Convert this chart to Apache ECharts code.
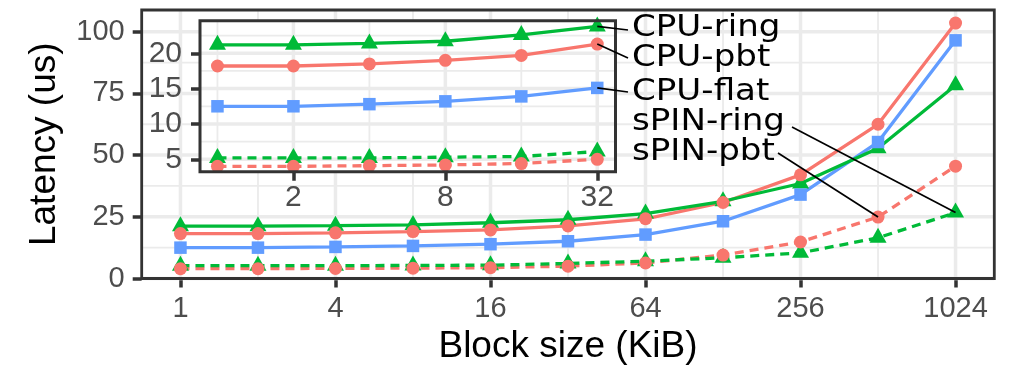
<!DOCTYPE html>
<html>
<head>
<meta charset="utf-8">
<script src="https://cdn.jsdelivr.net/npm/echarts@6/dist/echarts.min.js"></script>
<style>
  html, body { margin: 0; padding: 0; background: #fff; }
  #chart { width: 1012px; height: 372px; }
</style>
</head>
<body>
<div id="chart"></div>
<script>
// Block sizes (KiB) and measured latencies (us)
const blockSizes = [1, 2, 4, 8, 16, 32, 64, 128, 256, 512, 1024];
const cpuRing  = [21.2, 21.2, 21.4, 21.7, 22.6, 23.8, 26.3, 31.3, 38.5, 52.8, 78.3];
const cpuPbt   = [18.2, 18.2, 18.5, 19.0, 19.7, 21.3, 24.2, 30.8, 42.0, 62.5, 103.5];
const cpuFlat  = [12.5, 12.5, 12.8, 13.2, 13.9, 15.1, 17.8, 23.2, 34.0, 55.3, 96.5];
const spinRing = [5.2, 5.2, 5.2, 5.3, 5.4, 6.1, 7.0, 8.4, 10.4, 16.5, 26.7];
const spinPbt  = [4.0, 4.0, 4.1, 4.2, 4.4, 5.0, 6.3, 9.5, 14.8, 24.9, 45.5];

// Tick labels
const mainXTicks  = [1, 4, 16, 64, 256, 1024];
const mainYTicks  = [0, 25, 50, 75, 100];
const insetXTicks = [2, 8, 32];
const insetYTicks = [5, 10, 15, 20];
const insetMaxSize = 32;

// Layout
const MAIN  = { left: 141.7, top: 10, width: 852.6, height: 268.5 };
const INSET = { left: 200, top: 20.7, width: 415.5, height: 151.1 };
const MAIN_X = [-0.5, 10.5], MAIN_Y = [0, 108.8];
const INSET_X = [-0.23, 5.24], INSET_Y = [3.23, 24.61];

const RED = '#F8766D', GREEN = '#00BA38', BLUE = '#619CFF';
const GRID = '#EBEBEB', INK = '#333333', TICK_TEXT = '#4D4D4D';
const AXIS_FONT = 'Liberation Sans, Arial, sans-serif';

const log2 = v => Math.log2(v);

const groups = [
  { name: 'CPU-ring',  values: cpuRing,  color: GREEN, symbol: 'triangle', dashed: false },
  { name: 'CPU-pbt',   values: cpuPbt,   color: RED,   symbol: 'circle',   dashed: false },
  { name: 'CPU-flat',  values: cpuFlat,  color: BLUE,  symbol: 'rect',     dashed: false },
  { name: 'sPIN-ring', values: spinRing, color: GREEN, symbol: 'triangle', dashed: true },
  { name: 'sPIN-pbt',  values: spinPbt,  color: RED,   symbol: 'circle',   dashed: true }
];
const lineOrder  = ['sPIN-pbt', 'sPIN-ring', 'CPU-flat', 'CPU-pbt', 'CPU-ring'];
const pointOrder = ['sPIN-ring', 'sPIN-pbt', 'CPU-ring', 'CPU-flat', 'CPU-pbt'];
const byName = n => groups.find(g => g.name === n);

function markerStyle(g) {
  if (g.symbol === 'triangle') return { symbolSize: [17, 15], symbolOffset: [0, -2.5] };
  if (g.symbol === 'rect') return { symbolSize: 12.5 };
  return { symbolSize: 13 };
}

// Minor grid positions: halfway between breaks, one step beyond each end
function minorBreaks(ticks, range) {
  const step = ticks[1] - ticks[0];
  const ext = [ticks[0] - step, ...ticks, ticks[ticks.length - 1] + step];
  const out = [];
  for (let i = 0; i < ext.length - 1; i++) out.push((ext[i] + ext[i + 1]) / 2);
  return out.filter(v => v > range[0] && v < range[1]);
}

function dataSeries(idx, maxSize, zBase) {
  const out = [];
  const keep = blockSizes.map((b, i) => i).filter(i => blockSizes[i] <= maxSize);
  lineOrder.forEach(n => {
    const g = byName(n);
    out.push({
      type: 'line', name: g.name, xAxisIndex: idx, yAxisIndex: idx, z: zBase,
      data: keep.map(i => [log2(blockSizes[i]), g.values[i]]),
      showSymbol: false, silent: true,
      lineStyle: { color: g.color, width: 3.3, type: g.dashed ? [9, 6] : 'solid' }
    });
  });
  pointOrder.forEach(n => {
    const g = byName(n);
    out.push(Object.assign({
      type: 'scatter', name: g.name, xAxisIndex: idx, yAxisIndex: idx, z: zBase + 1,
      data: keep.map(i => [log2(blockSizes[i]), g.values[i]]),
      symbol: g.symbol, silent: true,
      itemStyle: { color: g.color, opacity: 1 }
    }, markerStyle(g)));
  });
  return out;
}

function tickAxis(opts) {
  return Object.assign({
    type: 'value',
    axisLine: { show: false, onZero: false },
    splitLine: { show: false },
    axisTick: { show: true, customValues: opts.ticks, length: 9, lineStyle: { color: INK, width: 3.5 } },
    axisLabel: {
      customValues: opts.ticks, fontSize: opts.fontSize, color: TICK_TEXT,
      fontFamily: AXIS_FONT, margin: opts.margin, formatter: opts.formatter
    }
  }, opts.extra);
}

const mainXVals = mainXTicks.map(log2);
const insetXVals = insetXTicks.map(log2);
const pow2Label = v => String(Math.round(Math.pow(2, v)));

const option = {
  animation: false,
  backgroundColor: '#ffffff',
  grid: [
    { left: MAIN.left, top: MAIN.top, width: MAIN.width, height: MAIN.height, show: false },
    { left: INSET.left, top: INSET.top, width: INSET.width, height: INSET.height, show: false }
  ],
  xAxis: [
    tickAxis({ ticks: mainXVals, fontSize: 29, margin: 16, formatter: pow2Label,
      extra: { gridIndex: 0, min: MAIN_X[0], max: MAIN_X[1],
        name: 'Block size (KiB)', nameLocation: 'middle', nameGap: 50,
        nameTextStyle: { fontSize: 37, color: '#000', fontFamily: AXIS_FONT } } }),
    tickAxis({ ticks: insetXVals, fontSize: 30, margin: 11, formatter: pow2Label,
      extra: { gridIndex: 1, min: INSET_X[0], max: INSET_X[1], z: 6 } })
  ],
  yAxis: [
    tickAxis({ ticks: mainYTicks, fontSize: 29, margin: 17, formatter: v => String(v),
      extra: { gridIndex: 0, min: MAIN_Y[0], max: MAIN_Y[1],
        name: 'Latency (us)', nameLocation: 'middle', nameGap: 78, nameRotate: 90,
        nameTextStyle: { fontSize: 37, color: '#000', fontFamily: AXIS_FONT } } }),
    tickAxis({ ticks: insetYTicks, fontSize: 30, margin: 18, formatter: v => String(v),
      extra: { gridIndex: 1, min: INSET_Y[0], max: INSET_Y[1], z: 6 } })
  ],
  series: [
    ...dataSeries(0, Infinity, 2),
    ...dataSeries(1, insetMaxSize, 6)
  ]
};

const chart = echarts.init(document.getElementById('chart'), null, { renderer: 'canvas' });
chart.setOption(option);

// Panel grid lines, placed through each grid's own axes
function gridElements(gridIndex, xMajor, xMinor, yMajor, yMinor, box, z) {
  const out = [];
  const x0 = box.left, x1 = box.left + box.width, y0 = box.top, y1 = box.top + box.height;
  const add = (px, vertical, w) => out.push({
    type: 'line', z, silent: true,
    shape: vertical ? { x1: px, y1: y0, x2: px, y2: y1 } : { x1: x0, y1: px, x2: x1, y2: px },
    style: { stroke: GRID, lineWidth: w }
  });
  yMinor.forEach(v => add(chart.convertToPixel({ gridIndex }, [0, v])[1], false, 1.8));
  xMinor.forEach(v => add(chart.convertToPixel({ gridIndex }, [v, 0])[0], true, 1.8));
  yMajor.forEach(v => add(chart.convertToPixel({ gridIndex }, [0, v])[1], false, 3.5));
  xMajor.forEach(v => add(chart.convertToPixel({ gridIndex }, [v, 0])[0], true, 3.5));
  return out;
}

// Direct labels with leader segments to their points
const labels = [
  { name: 'CPU-ring',  y: 27.5, from: [628, 30],  grid: 1, size: 32 },
  { name: 'CPU-pbt',   y: 57.5, from: [628, 58],  grid: 1, size: 32 },
  { name: 'CPU-flat',  y: 91.5, from: [628, 92],  grid: 1, size: 32 },
  { name: 'sPIN-ring', y: 122,  from: [792, 127], grid: 0, size: 1024 },
  { name: 'sPIN-pbt',  y: 152,  from: [778, 153], grid: 0, size: 512 }
];
const LABEL_X = 632;

const elements = [
  ...gridElements(0, mainXVals, minorBreaks(mainXVals, MAIN_X), mainYTicks, minorBreaks(mainYTicks, MAIN_Y), MAIN, 1),
  { type: 'rect', z: 4, silent: true,
    shape: { x: INSET.left, y: INSET.top, width: INSET.width, height: INSET.height },
    style: { fill: '#ffffff', stroke: 'none' } },
  ...gridElements(1, insetXVals, minorBreaks(insetXVals, INSET_X), insetYTicks, minorBreaks(insetYTicks, INSET_Y), INSET, 5),
  { type: 'rect', z: 8, silent: true,
    shape: { x: MAIN.left, y: MAIN.top, width: MAIN.width, height: MAIN.height },
    style: { fill: 'none', stroke: INK, lineWidth: 2.8 } },
  { type: 'rect', z: 8, silent: true,
    shape: { x: INSET.left, y: INSET.top, width: INSET.width, height: INSET.height },
    style: { fill: 'none', stroke: INK, lineWidth: 3 } }
];
labels.forEach(l => {
  const g = byName(l.name);
  const i = blockSizes.indexOf(l.size);
  const p = chart.convertToPixel({ gridIndex: l.grid }, [log2(l.size), g.values[i]]);
  elements.push({
    type: 'line', z: 9, silent: true,
    shape: { x1: p[0], y1: p[1], x2: l.from[0], y2: l.from[1] },
    style: { stroke: '#000', lineWidth: 1.7 }
  });
  elements.push({
    type: 'text', z: 9, silent: true, x: LABEL_X, y: l.y, scaleX: 1.1,
    style: { text: l.name, fontSize: 31, fontFamily: 'DejaVu Sans', fill: '#000',
      align: 'left', verticalAlign: 'middle' }
  });
});
chart.setOption({ graphic: { elements } });
</script>
</body>
</html>
